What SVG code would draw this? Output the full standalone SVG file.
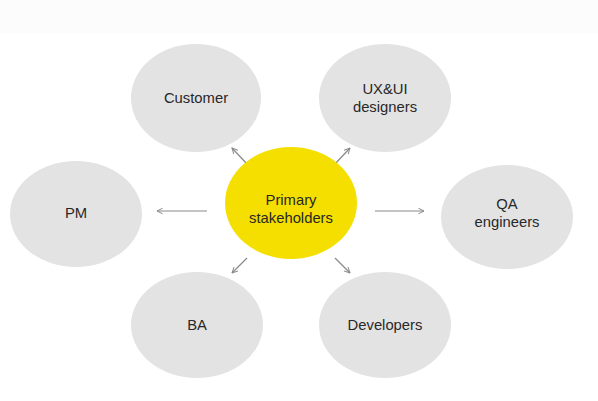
<svg xmlns="http://www.w3.org/2000/svg" width="598" height="401" viewBox="0 0 598 401">
<defs>
<style>
.n{fill:#e3e3e3}
.c{fill:#f4df00}
.t{font-family:"Liberation Sans",Arial,sans-serif;font-size:14.8px;fill:#282828;text-anchor:middle}
.e{stroke:#8a8a8a;stroke-width:1.2;fill:none;marker-end:url(#a)}
</style>
<marker id="a" viewBox="0 0 10 10" refX="9" refY="5" markerWidth="7" markerHeight="7" orient="auto" markerUnits="userSpaceOnUse">
<path d="M1,1 L9,5 L1,9" fill="none" stroke="#8a8a8a" stroke-width="1.4"/>
</marker>
</defs>
<rect width="598" height="401" fill="#ffffff"/>
<rect width="598" height="33" fill="#fcfcfc"/>
<g id="connectors">
<line class="e" x1="207" y1="211" x2="157" y2="211"/>
<line class="e" x1="375" y1="211" x2="424" y2="211"/>
<line class="e" x1="247" y1="164" x2="232" y2="148"/>
<line class="e" x1="335" y1="164" x2="350" y2="148"/>
<line class="e" x1="247" y1="258" x2="232" y2="273"/>
<line class="e" x1="335" y1="258" x2="350" y2="273"/>
</g>
<g id="customer">
<ellipse class="n" cx="196" cy="98" rx="65" ry="54"/>
<text class="t" x="196" y="103">Customer</text>
</g>
<g id="uxui">
<ellipse class="n" cx="385" cy="98" rx="66" ry="54"/>
<text class="t" x="385" y="94">UX&amp;UI</text>
<text class="t" x="385" y="112">designers</text>
</g>
<g id="pm">
<ellipse class="n" cx="76" cy="214" rx="66" ry="53"/>
<text class="t" x="76" y="218">PM</text>
</g>
<g id="primary">
<ellipse class="c" cx="291" cy="203" rx="66" ry="56"/>
<text class="t" x="291" y="205">Primary</text>
<text class="t" x="291" y="223">stakeholders</text>
</g>
<g id="qa">
<ellipse class="n" cx="507" cy="217" rx="66" ry="52"/>
<text class="t" x="507" y="209">QA</text>
<text class="t" x="507" y="227">engineers</text>
</g>
<g id="ba">
<ellipse class="n" cx="197" cy="325" rx="66" ry="53"/>
<text class="t" x="197" y="330">BA</text>
</g>
<g id="developers">
<ellipse class="n" cx="385" cy="325" rx="66" ry="53"/>
<text class="t" x="385" y="330">Developers</text>
</g>
</svg>
